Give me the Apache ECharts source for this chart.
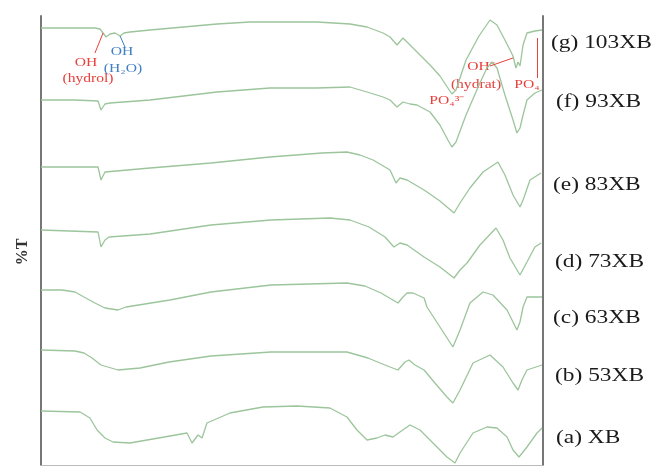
<!DOCTYPE html>
<html>
<head>
<meta charset="utf-8">
<script src="https://cdn.jsdelivr.net/npm/echarts@6/dist/echarts.min.js"></script>
<style>
  html, body { margin: 0; padding: 0; background: #fff; }
  #chart { width: 662px; height: 466px; }
</style>
</head>
<body>
<div id="chart"></div>
<script>
// FTIR spectra, stacked with vertical offsets: [wavenumber (cm-1), offset %T]
const sampleNames = ['(a) XB', '(b) 53XB', '(c) 63XB', '(d) 73XB', '(e) 83XB', '(f) 93XB', '(g) 103XB'];

const spectrumXB = [[4000,54],[3720,53],[3649,47],[3598,35],[3541,27],[3484,23],[3362,22],[3075,29],[2953,32],[2917,22],[2874,30],[2845,27],[2810,42],[2645,52],[2408,58],[2164,59],[1928,57],[1806,48],[1734,35],[1662,25],[1591,27],[1533,30],[1476,28],[1426,33],[1354,40],[1282,35],[1189,22],[1089,8],[1031,2],[995,12],[902,32],[802,38],[730,37],[658,28],[615,15],[572,8],[515,18],[443,32],[407,37]];

const spectrum53XB = [[4000,115],[3756,114],[3692,112],[3634,107],[3570,100],[3448,95],[3290,97],[3082,103],[2781,109],[2351,113],[1806,113],[1655,107],[1569,102],[1497,98],[1440,95],[1390,103],[1361,105],[1318,100],[1253,95],[1175,82],[1089,68],[1046,62],[995,75],[902,102],[780,110],[687,98],[615,82],[579,75],[551,85],[515,95],[407,100]];

const spectrum63XB = [[4000,175],[3849,175],[3756,173],[3692,168],[3613,162],[3541,157],[3448,155],[3390,158],[3075,165],[2781,173],[2351,180],[1806,182],[1677,179],[1562,172],[1440,162],[1404,168],[1375,172],[1332,172],[1253,167],[1232,158],[1139,138],[1046,118],[995,135],[924,162],[830,173],[759,170],[658,155],[615,143],[587,135],[565,143],[543,158],[515,168],[407,168]];

const spectrum73XB = [[4000,235],[3591,233],[3570,218],[3541,225],[3512,228],[3218,231],[2781,240],[2351,245],[1928,247],[1784,245],[1648,238],[1533,228],[1469,218],[1426,222],[1375,220],[1253,208],[1139,198],[1038,187],[995,195],[945,202],[852,220],[737,237],[687,225],[637,207],[565,190],[515,203],[458,218],[414,222]];

const spectrum83XB = [[4000,298],[3591,298],[3570,285],[3541,293],[3218,297],[2781,302],[2358,308],[1985,312],[1806,313],[1712,310],[1619,305],[1497,295],[1454,282],[1426,287],[1375,285],[1253,275],[1139,264],[1038,252],[995,262],[924,277],[830,293],[723,303],[673,290],[615,270],[565,258],[543,265],[493,285],[414,292]];

const spectrum93XB = [[4000,365],[3756,365],[3591,364],[3570,355],[3541,361],[3505,362],[3218,365],[2738,373],[2358,377],[2021,377],[1784,378],[1662,373],[1547,368],[1497,365],[1447,358],[1404,363],[1354,361],[1304,360],[1210,353],[1139,340],[1082,325],[1053,318],[1024,323],[952,350],[859,380],[802,397],[766,403],[730,397],[673,370],[615,345],[587,332],[565,337],[543,350],[515,365],[458,372],[407,375]];

const spectrum103XB = [[4000,437],[3849,437],[3613,437],[3577,436],[3555,432],[3534,428],[3505,431],[3469,432],[3433,429],[3405,432],[3362,433],[3218,435],[2738,441],[2501,443],[2021,443],[1784,441],[1662,438],[1547,432],[1497,428],[1447,420],[1404,427],[1332,417],[1210,400],[1139,389],[1082,377],[1053,371],[1024,375],[952,405],[859,429],[780,445],[766,446],[730,440],[673,425],[615,409],[594,397],[579,403],[565,399],[543,420],[515,432],[458,434],[407,435]];

const spectra = [spectrumXB, spectrum53XB, spectrum63XB, spectrum73XB, spectrum83XB, spectrum93XB, spectrum103XB];

// Band assignment leader lines (data coordinates)
const hydrolLeader = [[3555, 432], [3613, 412]];
const waterLeader = [[3433, 429], [3398, 418]];
const hydratLeader = [[780, 399], [615, 407]];
const phosphateLeader = [[444, 387], [444, 427]];

const lineColor = '#9cc59c';
const redInk = '#e8403c';
const blueInk = '#3f7fc4';
const serif = '"Liberation Serif", "Times New Roman", serif';

const chart = echarts.init(document.getElementById('chart'));

function leader(pts, color) {
  return [{ coord: pts[0], lineStyle: { color: color, width: 1, type: 'solid' } }, { coord: pts[1] }];
}

const series = spectra.map((data, i) => ({
  name: sampleNames[i],
  type: 'line',
  data: data,
  showSymbol: false,
  smooth: false,
  lineStyle: { color: lineColor, width: 1.3 },
  silent: true,
  markLine: i === 6 ? {
    silent: true,
    symbol: 'none',
    label: { show: false },
    data: [
      leader(hydrolLeader, redInk),
      leader(waterLeader, blueInk),
      leader(hydratLeader, redInk),
      leader(phosphateLeader, redInk)
    ]
  } : undefined
}));

// Sample labels on the right of the plot
const labelY = [438, 376, 318, 262, 185, 102, 43];
const labelX = [556, 555, 553, 555, 553, 556, 551];
const graphics = sampleNames.map((name, i) => ({
  type: 'text',
  x: labelX[i],
  y: labelY[i],
  scaleX: 1.3,
  style: {
    text: name,
    font: '18px ' + serif,
    fill: '#1a1a1a',
    textAlign: 'left',
    textVerticalAlign: 'middle'
  }
}));

function note(text, x, y, color) {
  return {
    type: 'text', x: x, y: y, scaleX: 1.3,
    style: { text: text, font: '12px ' + serif, fill: color, textAlign: 'center', textVerticalAlign: 'middle' }
  };
}

graphics.push(
  note('OH', 86, 63, redInk),
  note('(hydrol)', 88, 79, redInk),
  note('OH', 122, 52, blueInk),
  note('(H\u2082O)', 123, 69, blueInk),
  note('OH\u207B', 481, 67, redInk),
  note('(hydrat)', 476, 85, redInk),
  note('PO\u2084', 527, 85, redInk),
  note('PO\u2084\u00B3\u207B', 447, 101, redInk),
  {
    type: 'text', x: 23, y: 252, rotation: Math.PI / 2,
    style: { text: '%T', font: 'bold 16px ' + serif, fill: '#333', textAlign: 'center', textVerticalAlign: 'middle' }
  }
);

chart.setOption({
  animation: false,
  backgroundColor: '#fff',
  grid: { left: 41, right: 119, top: 16, bottom: 1 },
  xAxis: {
    type: 'value',
    min: 400, max: 4000,
    inverse: true,
    axisLine: { show: true, lineStyle: { color: '#bbb', width: 1 } },
    axisTick: { show: false },
    axisLabel: { show: false },
    splitLine: { show: false }
  },
  yAxis: [{
    type: 'value',
    min: 0, max: 449,
    position: 'left',
    axisLine: { show: true, lineStyle: { color: '#777', width: 2 } },
    axisTick: { show: false },
    axisLabel: { show: false },
    splitLine: { show: false }
  }, {
    type: 'value',
    min: 0, max: 449,
    position: 'right',
    axisLine: { show: true, lineStyle: { color: '#777', width: 2 } },
    axisTick: { show: false },
    axisLabel: { show: false },
    splitLine: { show: false }
  }],
  series: series,
  graphic: graphics
});
</script>
</body>
</html>
